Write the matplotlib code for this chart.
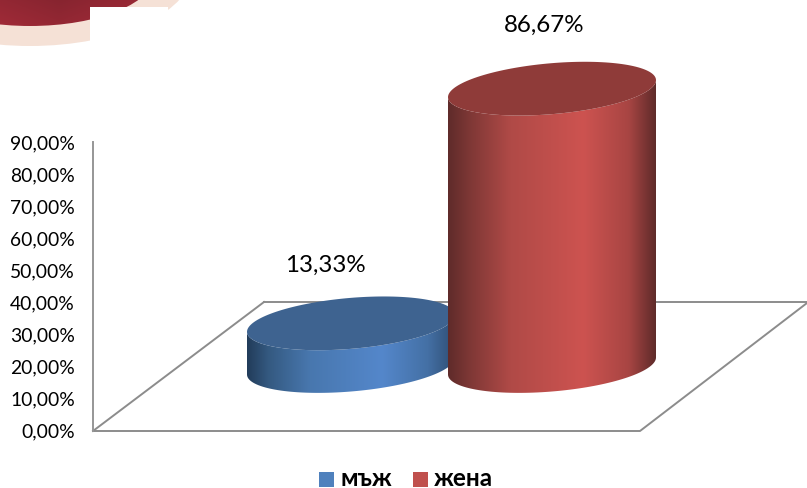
import numpy as np
import matplotlib
matplotlib.use('Agg')
import matplotlib.pyplot as plt
from matplotlib.patches import Ellipse, Polygon, Rectangle
from matplotlib.colors import LinearSegmentedColormap

categories = ['мъж', 'жена']
values = [13.33, 86.67]
value_labels = ['13,33%', '86,67%']
tick_values = [0, 10, 20, 30, 40, 50, 60, 70, 80, 90]
tick_labels = ['0,00%', '10,00%', '20,00%', '30,00%', '40,00%', '50,00%', '60,00%', '70,00%', '80,00%', '90,00%']

W, H = 807, 489
PX_PER_PCT = 3.2
ZERO_PX = 431

plt.rcParams['font.family'] = ['Lato', 'Open Sans', 'DejaVu Sans']

fig = plt.figure(figsize=(W / 100, H / 100), dpi=100)
ax = fig.add_axes([0, 0, 1, 1])
ax.axis('off')


# pixel row of the picture -> value axis
def py(y):
    return (ZERO_PX - y) / PX_PER_PCT


# stray picture in the top left corner
rim = Ellipse((30, py(-30)), 326, 154 / PX_PER_PCT, fc='#f5e1d6', ec='none', zorder=1)
ax.add_patch(rim)
red = Ellipse((30, py(-25)), 250, 104 / PX_PER_PCT, fc='none', ec='none', zorder=2)
ax.add_patch(red)
xx, yy = np.meshgrid(np.linspace(-100, 160, 130), np.linspace(0, 1, 40))
shade = 1 - np.abs(xx - 60) / 120 * 0.9 - yy * 0.6
red_map = LinearSegmentedColormap.from_list('r', ['#b5303f', '#86242f'])
im = ax.imshow(shade, extent=(-100, 160, py(30), py(-2)), cmap=red_map, aspect='auto', zorder=2)
im.set_clip_path(red)
ax.add_patch(Rectangle((90, py(60)), 78, py(8) - py(60), fc='white', ec='none', zorder=3))

# floor and value axis
ax.plot([93, 640, 807], [py(432), py(432), py(304)], color='#8c8c8c', lw=1.4, zorder=4)
ax.plot([264, 807], [py(303), py(303)], color='#8c8c8c', lw=1.4, zorder=4)
ax.plot([93, 264], [py(432), py(303)], color='#8c8c8c', lw=1.4, zorder=4)
ax.plot([93, 93], [py(432), py(143)], color='#969696', lw=1.4, zorder=4)

for tv, tl in zip(tick_values, tick_labels):
    ax.text(75, tv - 0.4, tl, ha='right', va='center', fontsize=13.9, color='black', zorder=8)


# one cylinder standing on the floor
def cylinder(cx, value, side_cols, top_col, z):
    a, tilt, b = 104, 8.5, 25.5
    base = py(367)
    top = base + value
    t = np.linspace(0, np.pi, 80)
    # front half, going from the right end round to the left end
    xs = cx + a * np.cos(t)
    off = (tilt * np.cos(t) - b * np.sin(t)) / PX_PER_PCT
    body = np.concatenate([np.c_[xs, top + off], np.c_[xs[::-1], base + off[::-1]]])
    side = Polygon(body, fc='none', ec='none', zorder=z)
    ax.add_patch(side)
    cmap = LinearSegmentedColormap.from_list('s', list(zip([0, 0.1, 0.3, 0.65, 0.87, 1], side_cols)))
    im = ax.imshow(np.linspace(0, 1, 256)[None, :], extent=(cx - a, cx + a, base - 12, top + 12),
                   cmap=cmap, aspect='auto', zorder=z)
    im.set_clip_path(side)
    t2 = np.linspace(0, 2 * np.pi, 160)
    lid = np.c_[cx + a * np.cos(t2), top + (tilt * np.cos(t2) - b * np.sin(t2)) / PX_PER_PCT]
    ax.add_patch(Polygon(lid, fc=top_col, ec='none', zorder=z + 0.5))


cylinder(351, values[0], ['#223c5a', '#345980', '#4877ae', '#5487cb', '#4470a5', '#2f4e74'], '#3e6390', 5)
cylinder(552, values[1], ['#5f2b2a', '#7d3735', '#b04a47', '#cd5350', '#a84543', '#5f2b2a'], '#8f3b39', 6)

ax.text(325, py(265), value_labels[0], ha='center', va='center', fontsize=17.4, zorder=8)
ax.text(544, py(25), value_labels[1], ha='center', va='center', fontsize=17.4, zorder=8)

# legend
ax.add_patch(Rectangle((319, py(488)), 15, 15 / PX_PER_PCT, fc='#4f81bd', ec='none'))
ax.add_patch(Rectangle((413, py(488)), 15, 15 / PX_PER_PCT, fc='#c0504d', ec='none'))
ax.text(340, py(486.5), categories[0], ha='left', va='baseline', fontsize=17.5, fontweight='bold')
ax.text(434, py(486.5), categories[1], ha='left', va='baseline', fontsize=17.5, fontweight='bold')

ax.set_xlim(0, W)
ax.set_ylim(py(H), py(0))
fig.savefig('out.png', dpi=100)
